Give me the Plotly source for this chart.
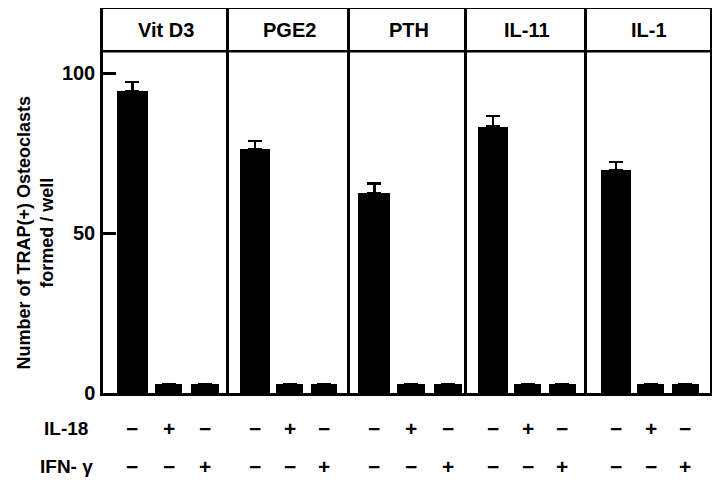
import plotly.graph_objects as go
from plotly.subplots import make_subplots

# ---- data ----
treatments = ["Vit D3", "PGE2", "PTH", "IL-11", "IL-1"]
conditions = ["control", "IL-18", "IFN-γ"]
counts = {
    "Vit D3": [94.4, 2.8, 2.7],
    "PGE2":   [76.2, 2.7, 2.7],
    "PTH":    [62.4, 2.7, 2.7],
    "IL-11":  [83.3, 2.7, 2.7],
    "IL-1":   [69.7, 2.8, 2.8],
}
errors = {
    "Vit D3": [2.9, 0, 0],
    "PGE2":   [2.6, 0, 0],
    "PTH":    [3.2, 0, 0],
    "IL-11":  [3.3, 0, 0],
    "IL-1":   [2.6, 0, 0],
}
il18_signs = ["−", "+", "−"]
ifng_signs = ["−", "−", "+"]
y_ticks = [0, 50, 100]

# ---- layout helpers (styling only) ----
col_widths = [126, 121, 117, 120, 123]
x_ranges = [[-0.813, 2.672], [-0.754, 2.754], [-0.659, 2.516],
            [-0.749, 2.709], [-0.837, 2.713]]
bar_widths = [0.86, 0.77, 0.77]
Y_TOP = 120.1
HEADER_LINE = 106.9
FONT = "Liberation Sans, Arial, Helvetica, sans-serif"
LW = 2.5

fig = make_subplots(rows=1, cols=5, shared_yaxes=True,
                    horizontal_spacing=0, column_widths=col_widths)

for i, t in enumerate(treatments):
    fig.add_trace(go.Bar(
        x=list(range(len(conditions))),
        y=counts[t],
        width=bar_widths,
        marker=dict(color="black", line=dict(width=0)),
        error_y=dict(type="data", array=errors[t], symmetric=False,
                     arrayminus=[0, 0, 0], color="black",
                     thickness=2.5, width=7),
        showlegend=False,
        hoverinfo="skip",
    ), row=1, col=i + 1)

for i in range(5):
    xa = "xaxis" if i == 0 else f"xaxis{i+1}"
    ya = "yaxis" if i == 0 else f"yaxis{i+1}"
    fig.layout[xa].update(range=x_ranges[i], showline=True, mirror=True,
                          linecolor="black", linewidth=LW, showgrid=False,
                          zeroline=False, showticklabels=False, ticks="",
                          automargin=False)
    fig.layout[ya].update(range=[0, Y_TOP], showline=True,
                          mirror=(i == 4),
                          linecolor="black", linewidth=LW, showgrid=False,
                          zeroline=False, automargin=False)

fig.layout.yaxis.update(tickvals=y_ticks, ticktext=[str(v) for v in y_ticks],
                        ticks="inside", ticklen=13, tickwidth=LW,
                        tickcolor="black", showticklabels=True,
                        ticklabelstandoff=1,
                        tickfont=dict(family=FONT, size=20, color="black",
                                      weight="bold"))
for i in range(1, 5):
    fig.layout[f"yaxis{i+1}"].update(ticks="", showticklabels=False)

# header separation line
fig.add_shape(type="line", xref="paper", yref="y", x0=0, x1=1,
              y0=HEADER_LINE, y1=HEADER_LINE,
              line=dict(color="black", width=LW))

# header labels
for i, t in enumerate(treatments):
    xr = "x" if i == 0 else f"x{i+1}"
    fig.add_annotation(text=t, xref=xr, yref="y",
                       x=(x_ranges[i][0] + x_ranges[i][1]) / 2,
                       y=(HEADER_LINE + Y_TOP) / 2, showarrow=False,
                       xanchor="center", yanchor="middle",
                       font=dict(family=FONT, size=20, color="black",
                                 weight="bold"))

# +/- rows
ROW1_Y = -0.0914
ROW2_Y = -0.1906
for i in range(5):
    xr = "x" if i == 0 else f"x{i+1}"
    for j in range(3):
        fig.add_annotation(text=il18_signs[j], xref=xr, yref="paper",
                           x=j, y=ROW1_Y, showarrow=False,
                           xanchor="center", yanchor="middle",
                           font=dict(family=FONT, size=21, color="black",
                                     weight="bold"))
        fig.add_annotation(text=ifng_signs[j], xref=xr, yref="paper",
                           x=j, y=ROW2_Y, showarrow=False,
                           xanchor="center", yanchor="middle",
                           font=dict(family=FONT, size=21, color="black",
                                     weight="bold"))

fig.add_annotation(text="IL-18", xref="paper", yref="paper", x=-0.021,
                   y=ROW1_Y, xanchor="right", yanchor="middle",
                   showarrow=False,
                   font=dict(family=FONT, size=19, color="black",
                             weight="bold"))
fig.add_annotation(text="IFN- γ", xref="paper", yref="paper", x=-0.013,
                   y=ROW2_Y, xanchor="right", yanchor="middle",
                   showarrow=False,
                   font=dict(family=FONT, size=19, color="black",
                             weight="bold"))

# y-axis title
fig.add_annotation(text="Number of TRAP(+) Osteoclasts<br>formed / well",
                   xref="paper", yref="paper", x=-0.112, y=0.418,
                   xanchor="center", yanchor="middle",
                   textangle=-90, showarrow=False,
                   font=dict(family=FONT, size=18, color="black",
                             weight="bold"))

# page body has an 8px margin, so the figure is sized to fit the window
fig.update_layout(
    template="none",
    width=712, height=472,
    margin=dict(l=95, r=10, t=1, b=87, autoexpand=False),
    plot_bgcolor="white", paper_bgcolor="white",
    bargap=0,
)

fig.write_html("out.html")
